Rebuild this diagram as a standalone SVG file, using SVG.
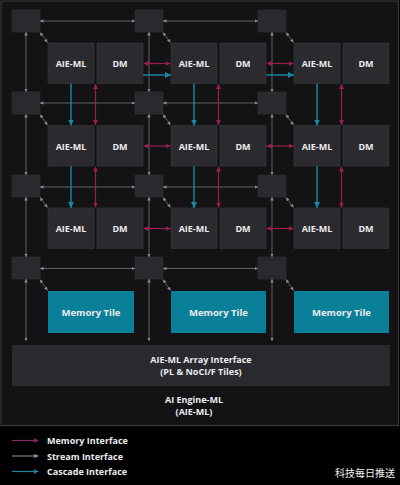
<svg xmlns="http://www.w3.org/2000/svg" width="400" height="485" viewBox="0 0 400 485">
<defs>
<style>
.t{font-family:"Open Sans","Liberation Sans",sans-serif;font-weight:700;fill:#ececee;text-anchor:middle;font-size:9px}
.sw{fill:#2a2a2e;stroke:#333337;stroke-width:0.6}
.bx{fill:#2b2b2f;stroke:#3a3a3f;stroke-width:0.6}
.mt{fill:#0a7f98}
.st{stroke:#737378;stroke-width:0.8;fill:none}
.mem{stroke:#9a1e50;stroke-width:1.2;fill:none}
.cas{stroke:#1a87a3;stroke-width:1.4;fill:none}
.lg{font-family:"Open Sans","Liberation Sans",sans-serif;font-weight:700;fill:#ececee;font-size:9px}
</style>
<marker id="sa" viewBox="0 0 6 6" refX="6" refY="3" markerWidth="3.5" markerHeight="3.5" markerUnits="userSpaceOnUse" orient="auto-start-reverse"><path d="M0,0 L6,3 L0,6 z" fill="#8c8c91"/></marker>
<marker id="ma" viewBox="0 0 6 6" refX="6" refY="3" markerWidth="5" markerHeight="5" markerUnits="userSpaceOnUse" orient="auto-start-reverse"><path d="M0,0 L6,3 L0,6 z" fill="#9a1e50"/></marker>
<marker id="ca" viewBox="0 0 6 6" refX="6" refY="3" markerWidth="6" markerHeight="6" markerUnits="userSpaceOnUse" orient="auto-start-reverse"><path d="M0,0 L6,3 L0,6 z" fill="#1a87a3"/></marker>
<marker id="lm" viewBox="0 0 6 6" refX="6" refY="3" markerWidth="5" markerHeight="5" markerUnits="userSpaceOnUse" orient="auto"><path d="M0,0 L6,3 L0,6 z" fill="#86276a"/></marker>
<marker id="ls" viewBox="0 0 6 6" refX="6" refY="3" markerWidth="5" markerHeight="5" markerUnits="userSpaceOnUse" orient="auto"><path d="M0,0 L6,3 L0,6 z" fill="#8c8c91"/></marker>
<marker id="lc" viewBox="0 0 6 6" refX="6" refY="3" markerWidth="5" markerHeight="5" markerUnits="userSpaceOnUse" orient="auto"><path d="M0,0 L6,3 L0,6 z" fill="#1a87a3"/></marker>
</defs>
<rect x="0" y="0" width="400" height="485" fill="#000"/>
<g id="panel"><rect x="1" y="1" width="397.5" height="424.5" fill="#131316" stroke="#3a3a3e" stroke-width="1.2"/></g>

<g id="switches">
<rect id="sw00" class="sw" x="12" y="10" width="28" height="22"/>
<rect id="sw01" class="sw" x="135" y="10" width="28" height="22"/>
<rect id="sw02" class="sw" x="258" y="10" width="28" height="22"/>
<rect id="sw10" class="sw" x="12" y="92" width="28" height="22"/>
<rect id="sw11" class="sw" x="135" y="92" width="28" height="22"/>
<rect id="sw12" class="sw" x="258" y="92" width="28" height="22"/>
<rect id="sw20" class="sw" x="12" y="175" width="28" height="22"/>
<rect id="sw21" class="sw" x="135" y="175" width="28" height="22"/>
<rect id="sw22" class="sw" x="258" y="175" width="28" height="22"/>
<rect id="sw30" class="sw" x="12" y="257" width="28" height="22"/>
<rect id="sw31" class="sw" x="135" y="257" width="28" height="22"/>
<rect id="sw32" class="sw" x="258" y="257" width="28" height="22"/>
</g>

<g id="aie00"><rect class="bx" x="48" y="43" width="46" height="40.5"/><text class="t" x="71" y="67">AIE-ML</text></g>
<g id="dm00"><rect class="bx" x="97" y="43" width="46" height="40.5"/><text class="t" x="120" y="67">DM</text></g>
<g id="aie01"><rect class="bx" x="171" y="43" width="46" height="40.5"/><text class="t" x="194" y="67">AIE-ML</text></g>
<g id="dm01"><rect class="bx" x="220" y="43" width="46" height="40.5"/><text class="t" x="243" y="67">DM</text></g>
<g id="aie02"><rect class="bx" x="294" y="43" width="46" height="40.5"/><text class="t" x="317" y="67">AIE-ML</text></g>
<g id="dm02"><rect class="bx" x="343" y="43" width="46" height="40.5"/><text class="t" x="366" y="67">DM</text></g>

<g id="aie10"><rect class="bx" x="48" y="125.5" width="46" height="40.5"/><text class="t" x="71" y="149.5">AIE-ML</text></g>
<g id="dm10"><rect class="bx" x="97" y="125.5" width="46" height="40.5"/><text class="t" x="120" y="149.5">DM</text></g>
<g id="aie11"><rect class="bx" x="171" y="125.5" width="46" height="40.5"/><text class="t" x="194" y="149.5">AIE-ML</text></g>
<g id="dm11"><rect class="bx" x="220" y="125.5" width="46" height="40.5"/><text class="t" x="243" y="149.5">DM</text></g>
<g id="aie12"><rect class="bx" x="294" y="125.5" width="46" height="40.5"/><text class="t" x="317" y="149.5">AIE-ML</text></g>
<g id="dm12"><rect class="bx" x="343" y="125.5" width="46" height="40.5"/><text class="t" x="366" y="149.5">DM</text></g>

<g id="aie20"><rect class="bx" x="48" y="208" width="46" height="40.5"/><text class="t" x="71" y="232">AIE-ML</text></g>
<g id="dm20"><rect class="bx" x="97" y="208" width="46" height="40.5"/><text class="t" x="120" y="232">DM</text></g>
<g id="aie21"><rect class="bx" x="171" y="208" width="46" height="40.5"/><text class="t" x="194" y="232">AIE-ML</text></g>
<g id="dm21"><rect class="bx" x="220" y="208" width="46" height="40.5"/><text class="t" x="243" y="232">DM</text></g>
<g id="aie22"><rect class="bx" x="294" y="208" width="46" height="40.5"/><text class="t" x="317" y="232">AIE-ML</text></g>
<g id="dm22"><rect class="bx" x="343" y="208" width="46" height="40.5"/><text class="t" x="366" y="232">DM</text></g>

<g id="memtile0"><rect class="mt" x="48" y="291" width="86" height="42"/><text class="t" x="91" y="315.5" style="font-size:9.5px">Memory Tile</text></g>
<g id="memtile1"><rect class="mt" x="171" y="291" width="95" height="42"/><text class="t" x="218.5" y="315.5" style="font-size:9.5px">Memory Tile</text></g>
<g id="memtile2"><rect class="mt" x="294" y="291" width="95" height="42"/><text class="t" x="341.5" y="315.5" style="font-size:9.5px">Memory Tile</text></g>

<g id="array-interface"><rect x="12" y="345" width="378" height="41" fill="#2a2a2e"/><text class="t" x="201" y="362.5">AIE-ML Array Interface</text><text class="t" x="201" y="374.5">(PL &amp; NoCI/F Tiles)</text></g>

<g id="title"><text class="t" x="194" y="403">AI Engine-ML</text><text class="t" x="194" y="415">(AIE-ML)</text></g>

<g id="connectors">
<g class="st" marker-start="url(#sa)" marker-end="url(#sa)">
<line x1="40" y1="21" x2="135" y2="21"/><line x1="163" y1="21" x2="258" y2="21"/>
<line x1="40" y1="103" x2="135" y2="103"/><line x1="163" y1="103" x2="258" y2="103"/>
<line x1="40" y1="187" x2="135" y2="187"/><line x1="163" y1="187" x2="258" y2="187"/>
<line x1="40" y1="268.5" x2="135" y2="268.5"/><line x1="163" y1="268.5" x2="258" y2="268.5"/>
<line x1="26" y1="32" x2="26" y2="92"/><line x1="26" y1="114" x2="26" y2="175"/><line x1="26" y1="197" x2="26" y2="257"/><line x1="26" y1="279" x2="26" y2="341"/>
<line x1="149" y1="32" x2="149" y2="92"/><line x1="149" y1="114" x2="149" y2="175"/><line x1="149" y1="197" x2="149" y2="257"/><line x1="149" y1="279" x2="149" y2="341"/>
<line x1="272" y1="32" x2="272" y2="92"/><line x1="272" y1="114" x2="272" y2="175"/><line x1="272" y1="197" x2="272" y2="257"/><line x1="272" y1="279" x2="272" y2="341"/>
<line x1="40" y1="32.5" x2="47.5" y2="42.5"/><line x1="163" y1="32.5" x2="170.5" y2="42.5"/><line x1="286" y1="32.5" x2="293.5" y2="42.5"/>
<line x1="40" y1="114.5" x2="47.5" y2="125"/><line x1="163" y1="114.5" x2="170.5" y2="125"/><line x1="286" y1="114.5" x2="293.5" y2="125"/>
<line x1="40" y1="197.5" x2="47.5" y2="207.5"/><line x1="163" y1="197.5" x2="170.5" y2="207.5"/><line x1="286" y1="197.5" x2="293.5" y2="207.5"/>
<line x1="40" y1="279.5" x2="47.5" y2="290.5"/><line x1="163" y1="279.5" x2="170.5" y2="290.5"/><line x1="286" y1="279.5" x2="293.5" y2="290.5"/>
</g>
<g class="mem" marker-start="url(#ma)" marker-end="url(#ma)">
<line x1="143.5" y1="63.5" x2="170.5" y2="63.5"/><line x1="266.5" y1="63.5" x2="293.5" y2="63.5"/>
<line x1="143.5" y1="146" x2="170.5" y2="146"/><line x1="266.5" y1="146" x2="293.5" y2="146"/>
<line x1="143.5" y1="228.5" x2="170.5" y2="228.5"/><line x1="266.5" y1="228.5" x2="293.5" y2="228.5"/>
<line x1="95.5" y1="84" x2="95.5" y2="125"/><line x1="218.5" y1="84" x2="218.5" y2="125"/><line x1="341.5" y1="84" x2="341.5" y2="125"/>
<line x1="95.5" y1="166.5" x2="95.5" y2="207.5"/><line x1="218.5" y1="166.5" x2="218.5" y2="207.5"/><line x1="341.5" y1="166.5" x2="341.5" y2="207.5"/>
</g>
<g class="cas" marker-end="url(#ca)">
<line x1="143" y1="75" x2="171" y2="75"/><line x1="266" y1="75" x2="294" y2="75"/>
<line x1="71" y1="83.5" x2="71" y2="125.5"/><line x1="194" y1="83.5" x2="194" y2="125.5"/><line x1="317" y1="83.5" x2="317" y2="125.5"/>
<line x1="71" y1="166" x2="71" y2="208"/><line x1="194" y1="166" x2="194" y2="208"/><line x1="317" y1="166" x2="317" y2="208"/>
</g>
</g>

<g id="legend">
<line x1="12" y1="440.5" x2="38.5" y2="440.5" stroke="#86276a" stroke-width="1.2" marker-end="url(#lm)"/>
<text class="lg" x="47" y="444">Memory Interface</text>
<line x1="12" y1="456" x2="38.5" y2="456" stroke="#7a7a7f" stroke-width="1.2" marker-end="url(#ls)"/>
<text class="lg" x="47" y="459.5">Stream Interface</text>
<line x1="12" y1="471.5" x2="38.5" y2="471.5" stroke="#1a87a3" stroke-width="1.2" marker-end="url(#lc)"/>
<text class="lg" x="47" y="475">Cascade Interface</text>
</g>
<text x="395" y="476.5" text-anchor="end" style="font-family:'Noto Sans CJK SC',sans-serif;font-size:10px;fill:#f2f2f2">科技每日推送</text>
</svg>
